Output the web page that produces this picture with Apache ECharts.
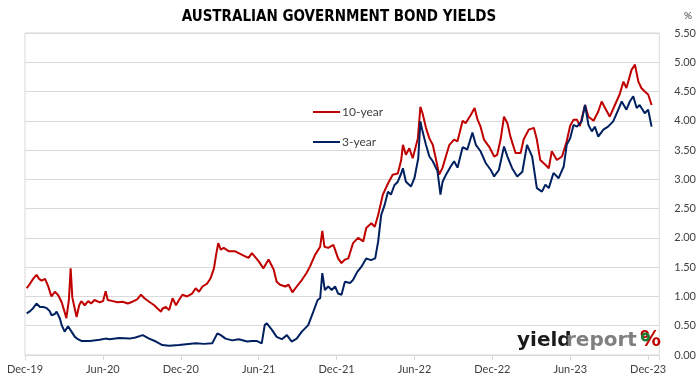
<!DOCTYPE html>
<html><head><meta charset="utf-8">
<script src="https://cdn.jsdelivr.net/npm/echarts@6/dist/echarts.min.js"></script>
<style>html,body{margin:0;padding:0;background:#fff}#c{width:699px;height:384px}</style>
</head><body><div id="c"></div>
<script>
// Tick labels on the date axis (one every half year, from 1 Dec 2019)
const xTickLabels = ['Dec-19','Jun-20','Dec-20','Jun-21','Dec-21','Jun-22','Dec-22','Jun-23','Dec-23'];
const halfYearDays = 182.625;
const axisEndDays = 1487;
// Days since 1 Dec 2019 and 10-year yields (%)
const days10 = [4,12,19,27,33,39,47,54,62,70,78,86,91,97,103,107,111,117,121,127,132,140,148,155,163,175,183,189,194,206,217,229,241,252,263,272,280,291,303,310,319,322,330,338,346,354,361,369,380,392,400,408,416,427,435,443,448,453,459,466,478,493,509,515,524,532,548,559,571,583,590,598,610,618,627,637,649,660,668,680,692,697,702,711,723,734,742,750,758,769,781,793,800,812,820,828,839,851,862,874,882,886,893,901,909,921,927,932,940,948,956,963,971,979,987,995,1006,1014,1026,1033,1045,1054,1061,1068,1076,1088,1100,1107,1115,1123,1131,1138,1150,1162,1169,1181,1193,1200,1208,1220,1228,1235,1247,1259,1270,1278,1286,1294,1301,1313,1321,1333,1344,1352,1360,1371,1383,1394,1403,1410,1422,1430,1438,1445,1453,1461,1469];
const yld10 = [1.14,1.22,1.30,1.37,1.30,1.27,1.30,1.18,1.00,1.08,1.02,0.90,0.78,0.63,0.95,1.48,0.98,0.78,0.65,0.85,0.92,0.85,0.92,0.88,0.94,0.90,0.92,1.09,0.94,0.92,0.90,0.91,0.88,0.91,0.95,1.03,0.97,0.91,0.85,0.80,0.74,0.79,0.82,0.77,0.97,0.85,0.94,1.03,1.00,1.05,1.14,1.08,1.17,1.22,1.31,1.48,1.71,1.91,1.80,1.83,1.77,1.77,1.71,1.69,1.66,1.74,1.60,1.48,1.63,1.46,1.25,1.20,1.17,1.20,1.07,1.17,1.28,1.40,1.51,1.71,1.85,2.12,1.85,1.83,1.88,1.65,1.57,1.63,1.65,1.91,2.00,1.94,2.17,2.25,2.19,2.39,2.74,2.93,3.08,3.10,3.33,3.59,3.42,3.53,3.36,3.70,4.24,4.13,3.88,3.70,3.59,3.36,3.08,3.20,3.40,3.59,3.68,3.65,4.00,3.96,4.10,4.22,4.02,3.90,3.68,3.56,3.39,3.42,3.68,4.07,3.96,3.73,3.45,3.45,3.68,3.85,3.88,3.68,3.33,3.25,3.19,3.48,3.33,3.39,3.65,3.91,4.02,4.02,3.91,4.27,4.07,4.00,4.16,4.33,4.22,4.07,4.27,4.45,4.67,4.56,4.87,4.96,4.67,4.56,4.50,4.45,4.27];
// Days since 1 Dec 2019 and 3-year yields (%)
const days3 = [4,12,19,27,35,43,51,58,62,70,74,82,86,93,101,109,117,124,132,152,175,189,198,221,245,259,276,291,307,322,338,361,400,420,439,451,459,470,486,501,521,532,543,555,562,567,579,590,602,614,625,637,649,664,676,686,692,697,703,711,719,727,734,742,750,762,769,779,788,800,811,821,828,835,843,851,858,866,874,882,886,893,905,913,922,927,932,940,948,956,967,974,979,987,998,1006,1014,1026,1037,1049,1057,1068,1080,1092,1100,1111,1123,1131,1142,1154,1166,1177,1189,1200,1212,1220,1228,1239,1251,1263,1270,1278,1286,1294,1305,1313,1321,1329,1336,1344,1356,1367,1379,1391,1399,1410,1418,1426,1434,1441,1453,1461,1469];
const yld3 = [0.71,0.75,0.80,0.88,0.82,0.82,0.80,0.75,0.68,0.70,0.74,0.62,0.51,0.40,0.49,0.40,0.31,0.27,0.24,0.24,0.26,0.28,0.27,0.29,0.28,0.30,0.34,0.28,0.23,0.17,0.16,0.17,0.20,0.19,0.20,0.37,0.34,0.28,0.25,0.27,0.23,0.24,0.24,0.20,0.51,0.54,0.43,0.31,0.27,0.34,0.23,0.28,0.40,0.51,0.74,0.94,0.97,1.40,1.11,1.17,1.11,1.17,1.05,1.03,1.25,1.23,1.28,1.42,1.50,1.65,1.62,1.65,1.94,2.39,2.56,2.79,2.74,2.90,2.96,3.10,3.19,2.96,2.88,3.02,3.36,3.99,3.82,3.59,3.39,3.31,3.14,2.74,2.96,3.08,3.22,3.31,3.20,3.55,3.51,3.80,3.59,3.48,3.28,3.16,3.05,3.16,3.56,3.39,3.19,3.05,3.13,3.59,3.39,2.85,2.79,2.91,2.85,3.11,3.02,3.22,3.59,3.70,3.93,3.90,3.99,4.27,3.93,3.82,3.90,3.73,3.85,3.90,3.99,4.19,4.33,4.19,4.33,4.42,4.22,4.27,4.13,4.19,3.90];

const pairs = (d, v) => d.map((x, i) => [x, v[i]]);
const txt = '#404040';
const chart = echarts.init(document.getElementById('c'), null, {renderer: 'canvas'});
chart.setOption({
  animation: false,
  backgroundColor: '#fff',
  textStyle: {fontFamily: 'Lato'},
  grid: {left: 25, right: 36, top: 33, bottom: 29, show: true, borderColor: '#d9d9d9', borderWidth: 1},
  legend: {
    orient: 'vertical', left: 308, top: 101, itemWidth: 27, itemHeight: 2, itemGap: 18,
    icon: 'rect', data: ['10-year', '3-year'],
    textStyle: {fontFamily: 'Lato', fontSize: 12, color: txt, padding: [0, 0, 0, -3]}
  },
  xAxis: {
    type: 'value', min: 0, max: axisEndDays, interval: halfYearDays,
    axisLine: {show: true, lineStyle: {color: '#d9d9d9'}},
    axisTick: {show: true, length: 5, lineStyle: {color: '#d9d9d9'}},
    splitLine: {show: false},
    axisLabel: {
      margin: 9, fontFamily: 'Lato', fontSize: 11, color: txt,
      formatter: v => { const k = v / halfYearDays; return Math.abs(k - Math.round(k)) < 1e-6 ? (xTickLabels[Math.round(k)] || '') : ''; }
    }
  },
  yAxis: {
    type: 'value', position: 'right', min: 0, max: 5.5, interval: 0.5,
    axisLine: {show: false}, axisTick: {show: false},
    splitLine: {lineStyle: {color: '#d9d9d9'}},
    axisLabel: {margin: 15, fontFamily: 'Lato', fontSize: 11, color: txt, formatter: v => v.toFixed(2)}
  },
  graphic: [
    {type: 'text', style: {x: 339, y: 17, text: 'AUSTRALIAN GOVERNMENT BOND YIELDS', align: 'center', verticalAlign: 'middle', font: 'bold 15px "Liberation Sans Narrow", "DejaVu Sans Condensed", sans-serif', fill: '#000'}},
    {type: 'text', style: {x: 688, y: 16, text: '%', align: 'center', verticalAlign: 'middle', font: '10px Lato', fill: txt}},
    {type: 'text', style: {x: 517, y: 341, text: 'yield', verticalAlign: 'middle', font: 'bold 20px "DejaVu Sans", sans-serif', fill: '#1a1a1a'}},
    {type: 'text', style: {x: 566, y: 341, text: 'report', verticalAlign: 'middle', font: 'bold 20px "DejaVu Sans", sans-serif', fill: '#7f7f7f'}},
    {type: 'text', z: 10, style: {x: 640, y: 341, text: '%', verticalAlign: 'middle', font: 'bold 21px "DejaVu Sans", sans-serif', fill: '#c00000'}},
    {type: 'ring', z: 11, shape: {cx: 645.5, cy: 337, r: 4.6, r0: 1.9}, style: {fill: '#1e7b34'}}
  ],
  series: [
    {name: '10-year', type: 'line', data: pairs(days10, yld10), showSymbol: false, color: '#c00000', lineStyle: {width: 2, color: '#c00000'}},
    {name: '3-year', type: 'line', data: pairs(days3, yld3), showSymbol: false, color: '#002060', lineStyle: {width: 2, color: '#002060'}}
  ]
});
</script></body></html>
